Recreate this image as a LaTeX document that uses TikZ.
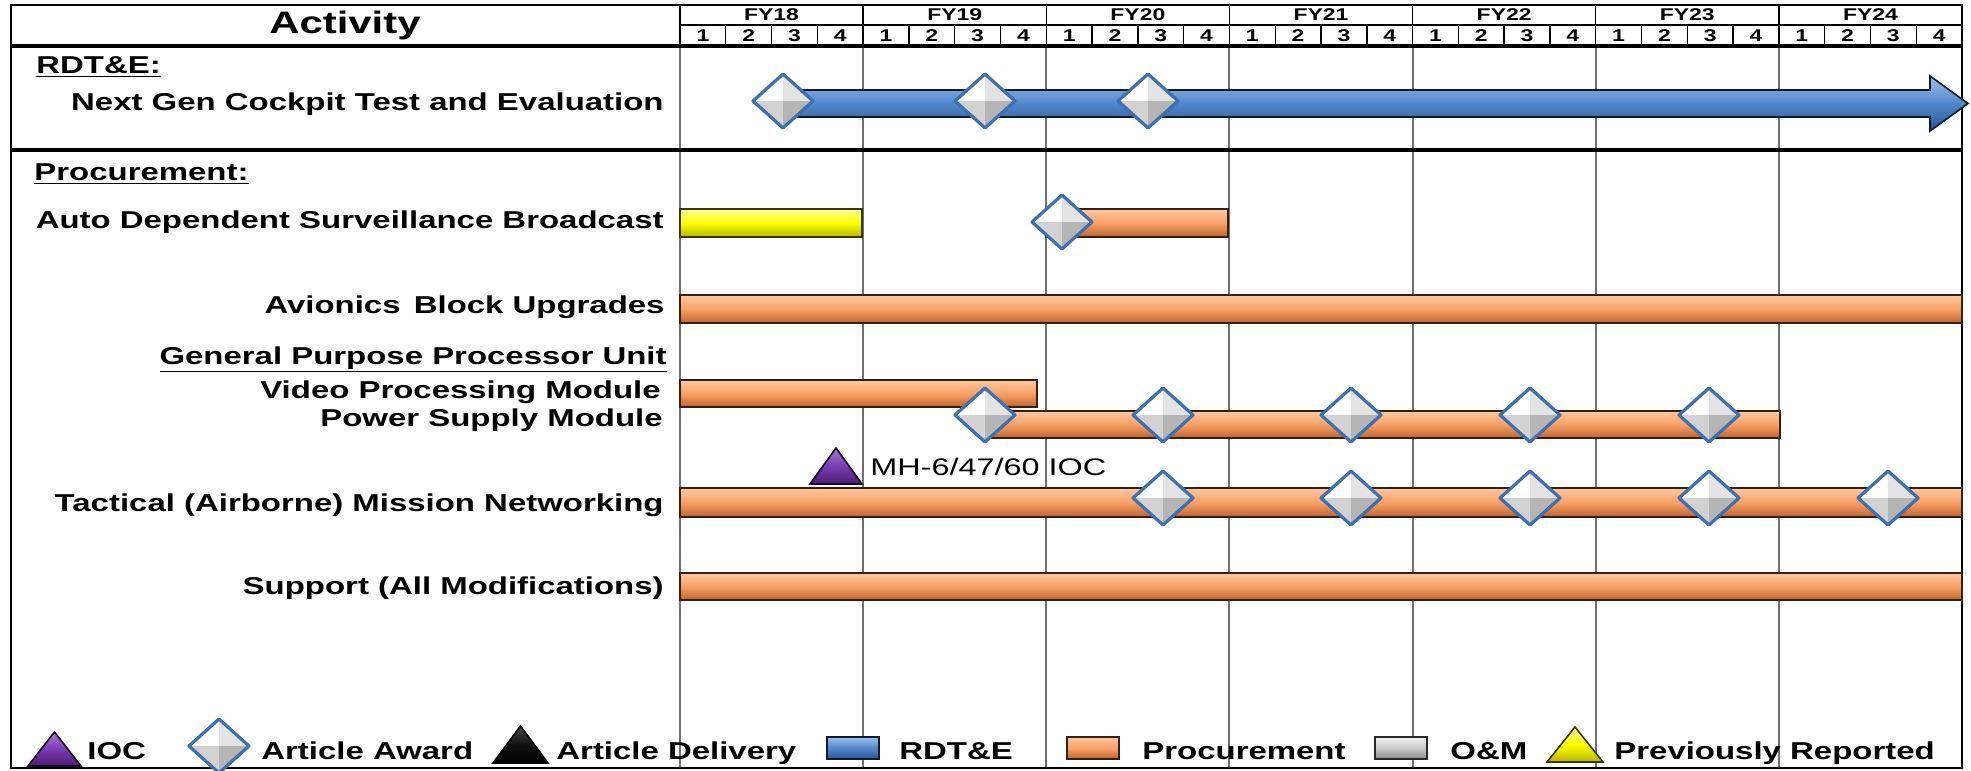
\documentclass[tikz,border=0pt]{standalone}
\usepackage{fontspec}
\setmainfont[FakeStretch=1.35]{Liberation Sans}
\usepackage{tikz}
\usetikzlibrary{shadings}
\definecolor{rdte}{HTML}{5287CC}
\definecolor{rdteL}{HTML}{9DBFEA}
\definecolor{rdteD}{HTML}{2B568F}
\definecolor{proc}{HTML}{F8A065}
\definecolor{procL}{HTML}{FDC9A4}
\definecolor{procD}{HTML}{BC6532}
\definecolor{prev}{HTML}{FFFF00}
\definecolor{prevL}{HTML}{FFFF9E}
\definecolor{prevD}{HTML}{B5B500}
\definecolor{om}{HTML}{C9C9C9}
\definecolor{omL}{HTML}{F4F4F4}
\definecolor{omD}{HTML}{8A8A8A}
\definecolor{ioc}{HTML}{7A3DB0}
\definecolor{iocL}{HTML}{A97DD2}
\definecolor{iocD}{HTML}{4A1C75}
\definecolor{blk}{HTML}{111111}
\definecolor{blkL}{HTML}{4A4A4A}
\definecolor{blkD}{HTML}{000000}
\definecolor{awdblue}{HTML}{3E6FAE}
\definecolor{gridgray}{HTML}{707070}

\begin{document}
\begin{tikzpicture}[x=0.5pt, y=-0.5pt,
  bar/.style={draw=#1D!30!black, line width=0.8pt, top color=#1L, bottom color=#1D, middle color=#1},
  rowlbl/.style={anchor=base east, inner sep=0pt, font=\fontsize{12.2}{14}\selectfont\bfseries},
  seclbl/.style={anchor=base west, inner sep=0pt, font=\fontsize{12.2}{14}\selectfont\bfseries},
  leglbl/.style={anchor=base west, inner sep=0pt, font=\fontsize{12.2}{14}\selectfont\bfseries},
  hdrlbl/.style={inner sep=0pt, font=\fontsize{8.5}{9}\selectfont\bfseries},
  gridline/.style={draw=gridgray, line width=1pt},
  hdrline/.style={draw=black, line width=0.7pt},
  award/.pic={
    \fill[white] (-30,0) -- (0,-27) -- (0,0) -- cycle;
    \fill[gray!22] (0,-27) -- (30,0) -- (0,0) -- cycle;
    \fill[gray!35] (-30,0) -- (0,27) -- (0,0) -- cycle;
    \fill[gray!58] (0,27) -- (30,0) -- (0,0) -- cycle;
    \draw[awdblue, line width=1.6pt, line join=round] (-30,0) -- (0,-27) -- (30,0) -- (0,27) -- cycle;
  },
]
  \useasboundingbox (0,0) rectangle (1971,771);

  % grid
  \draw[gridline] (680,46) -- (680,768);
  \foreach \k in {1,...,6}
    \draw[gridline] ({680+183.143*\k},46) -- ({680+183.143*\k},768);

  % header
  \foreach \fy [count=\k from 0] in {18,...,24}{
    \node[hdrlbl] (fy\fy) at ({680+183.143*(\k+0.5)},15) {FY\fy};
    \draw[hdrline] ({680+183.143*\k},5) -- ({680+183.143*\k},46);
  }
  \foreach \k in {0,...,27}{
    \pgfmathtruncatemacro\qn{mod(\k,4)+1}
    \node[hdrlbl] (q\k) at ({680+45.786*(\k+0.5)},35.5) {\qn};
    \draw[hdrline] ({680+45.786*\k},25) -- ({680+45.786*\k},46);
  }
  \draw[hdrline] (680,25) -- (1962,25);
  \draw[black, line width=1.8pt] (11,46) -- (1962,46);
  \draw[black, line width=1.6pt] (11,150) -- (1962,150);
  \draw[black, line width=1pt] (11,5) rectangle (1962,768);
  \node[inner sep=0pt, font=\fontsize{15.5}{18}\selectfont\bfseries] (actHdr) at (345,25) {Activity};

  % RDT&E
  \node[seclbl] (rdteHdr) at (36,73) {\underline{RDT\&E:}};
  \node[rowlbl] (ngcLbl) at (664,110) {Next Gen Cockpit Test and Evaluation};
  \draw[bar=rdte] (783,90) -- (1930,90) -- (1930,76) -- (1968,103.5) -- (1930,131)
    -- (1930,117) -- (783,117) -- cycle;
  \pic at (783,101) {award};
  \pic at (985,101) {award};
  \pic at (1148,101) {award};

  % Procurement
  \node[seclbl] (procHdr) at (34,180) {\underline{Procurement:}};
  \node[rowlbl] (adsbLbl) at (664,228) {Auto Dependent Surveillance Broadcast};
  \draw[bar=prev] (680,209) rectangle (862,237);
  \draw[bar=proc] (1046,209) rectangle (1228,237);
  \pic at (1062,222) {award};

  \node[rowlbl] (avLbl) at (665,313) {Avionics\, Block Upgrades};
  \draw[bar=proc] (680,295) rectangle (1962,323);

  \node[rowlbl] (gppuLbl) at (667,364) {\underline{General Purpose Processor Unit}};
  \node[rowlbl] (vpmLbl) at (661,398) {Video Processing Module};
  \draw[bar=proc] (680,380) rectangle (1037,407);
  \node[rowlbl] (psmLbl) at (663,426) {Power Supply Module};
  \draw[bar=proc] (985,411) rectangle (1780,438);
  \foreach \x in {985,1163,1351,1530,1709}
    \pic at (\x,415) {award};

  \draw[bar=ioc] (810,484) -- (836,448) -- (862,484) -- cycle;
  \node[anchor=base west, inner sep=0pt, font=\fontsize{12}{14}\selectfont] (iocNote) at (870,475) {MH-6/47/60 IOC};

  \node[rowlbl] (tmnLbl) at (664,511) {Tactical (Airborne) Mission Networking};
  \draw[bar=proc] (680,488) rectangle (1962,517);
  \foreach \x in {1163,1351,1530,1709,1888}
    \pic at (\x,498) {award};

  \node[rowlbl] (supLbl) at (664,594) {Support (All Modifications)};
  \draw[bar=proc] (680,573) rectangle (1962,600);

  % legend
  \draw[bar=ioc] (28,766) -- (54.5,732) -- (81,766) -- cycle;
  \node[leglbl] (lgIoc) at (87,759) {IOC};
  \pic at (219,746) {award};
  \node[leglbl] (lgAwd) at (261,759) {Article Award};
  \draw[bar=blk] (493,763) -- (520.5,726) -- (548,763) -- cycle;
  \node[leglbl] (lgDel) at (556,759) {Article Delivery};
  \draw[bar=rdte] (827,737) rectangle (879,759);
  \node[leglbl] (lgRdte) at (899,759) {RDT\&E};
  \draw[bar=proc] (1067,737) rectangle (1119,759);
  \node[leglbl] (lgProc) at (1142,759) {Procurement};
  \draw[bar=om] (1375,737) rectangle (1427,759);
  \node[leglbl] (lgOm) at (1450,759) {O\&M};
  \draw[bar=prev] (1547,762) -- (1575,727) -- (1603,762) -- cycle;
  \node[leglbl] (lgPrev) at (1614,759) {Previously Reported};
\end{tikzpicture}
\end{document}
